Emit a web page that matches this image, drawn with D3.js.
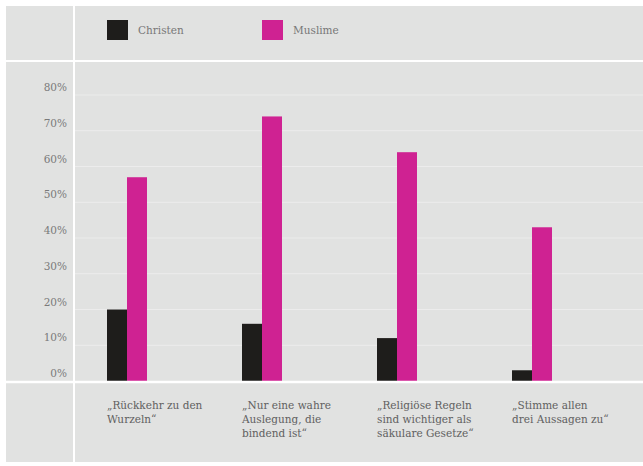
<!DOCTYPE html>
<html>
<head>
<meta charset="utf-8">
<script src="https://cdn.jsdelivr.net/npm/d3@7"></script>
<style>
  body { margin: 0; background: #fff; }
  svg { display: block; }
  .tick-label { font-family: "DejaVu Serif", serif; font-size: 10.5px; fill: #7a7a7a; }
  .cat-label { font-family: "DejaVu Serif", serif; font-size: 10.5px; fill: #606060; }
  .legend-label { font-family: "DejaVu Serif", serif; font-size: 10.5px; fill: #777; }
</style>
</head>
<body>
<div id="svg-container"></div>
<script>
// data
const categories = [
  ["„Rückkehr zu den", "Wurzeln“"],
  ["„Nur eine wahre", "Auslegung, die", "bindend ist“"],
  ["„Religiöse Regeln", "sind wichtiger als", "säkulare Gesetze“"],
  ["„Stimme allen", "drei Aussagen zu“"]
];
const seriesNames = ["Christen", "Muslime"];
const christen = [20, 16, 12, 3];
const muslime = [57, 74, 64, 43];
const yTicks = [0, 10, 20, 30, 40, 50, 60, 70, 80];

const colors = ["#1e1d1b", "#cf2292"];

const width = 643, height = 466;
const svg = d3.select("#svg-container").append("svg")
  .attr("width", width).attr("height", height);

// background panel
svg.append("rect")
  .attr("x", 6).attr("y", 6)
  .attr("width", width - 6).attr("height", 456)
  .attr("fill", "#e1e2e1");

// scales
const yScale = d3.scaleLinear().domain([0, 80]).range([381, 95]);
const xGroup = d3.scaleBand()
  .domain(d3.range(categories.length))
  .range([107, 647])
  .paddingInner(0)
  .paddingOuter(0)
  .align(0);
const barW = 20;

// gridlines
svg.append("g")
  .selectAll("line")
  .data(yTicks.slice(1))
  .join("line")
  .attr("x1", 74).attr("x2", width)
  .attr("y1", (d) => yScale(d)).attr("y2", (d) => yScale(d))
  .attr("stroke", "#ececec")
  .attr("stroke-width", 1.2);

// tick labels
svg.append("g")
  .selectAll("text")
  .data(yTicks)
  .join("text")
  .attr("class", "tick-label")
  .attr("x", 67)
  .attr("y", (d) => yScale(d) - 4)
  .attr("text-anchor", "end")
  .text((d) => d + "%");

// structural white lines
svg.append("line")
  .attr("x1", 74).attr("x2", 74).attr("y1", 6).attr("y2", 462)
  .attr("stroke", "#fff").attr("stroke-width", 2);
svg.append("line")
  .attr("x1", 6).attr("x2", width).attr("y1", 61).attr("y2", 61)
  .attr("stroke", "#fff").attr("stroke-width", 2);

// bars
const groups = svg.append("g")
  .selectAll("g")
  .data(categories.map((c, i) => ({ i, vals: [christen[i], muslime[i]] })))
  .join("g")
  .attr("transform", (d) => `translate(${xGroup(d.i)},0)`);

groups.selectAll("rect")
  .data((d) => d.vals)
  .join("rect")
  .attr("x", (d, j) => j * barW)
  .attr("y", (d) => yScale(d))
  .attr("width", barW)
  .attr("height", (d) => yScale(0) - yScale(d))
  .attr("fill", (d, j) => colors[j]);

// baseline
svg.append("line")
  .attr("x1", 6).attr("x2", width).attr("y1", 382).attr("y2", 382)
  .attr("stroke", "#fff").attr("stroke-width", 2.5);

// category labels
groups.append("text")
  .attr("class", "cat-label")
  .attr("y", 409)
  .selectAll("tspan")
  .data((d) => categories[d.i])
  .join("tspan")
  .attr("x", 0)
  .attr("dy", (d, k) => (k === 0 ? 0 : 14))
  .text((d) => d);

// legend
const legend = svg.append("g")
  .selectAll("g")
  .data(seriesNames)
  .join("g")
  .attr("transform", (d, i) => `translate(${107 + i * 155},20)`);
legend.append("rect")
  .attr("width", 21).attr("height", 20)
  .attr("fill", (d, i) => colors[i]);
legend.append("text")
  .attr("class", "legend-label")
  .attr("x", 31).attr("y", 14)
  .text((d) => d);
</script>
</body>
</html>
